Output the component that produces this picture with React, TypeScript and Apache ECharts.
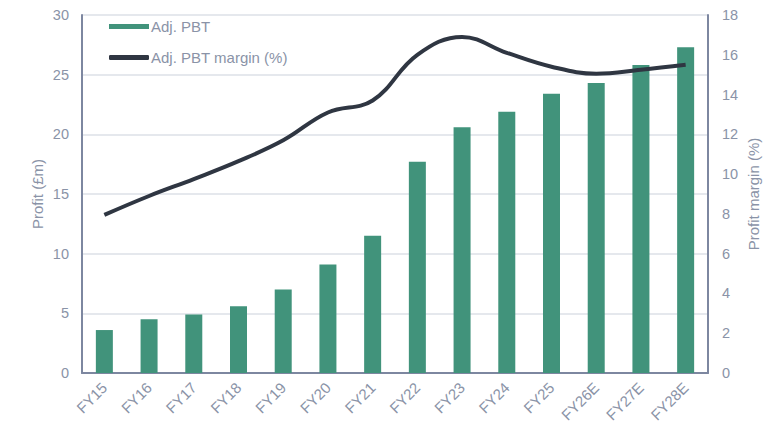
import React, { useEffect, useRef } from "react";
import * as echarts from "echarts";

const categories = ["FY15", "FY16", "FY17", "FY18", "FY19", "FY20", "FY21", "FY22", "FY23", "FY24", "FY25", "FY26E", "FY27E", "FY28E"];
const adjPBT = [3.6, 4.5, 4.9, 5.6, 7.0, 9.1, 11.5, 17.7, 20.6, 21.9, 23.4, 24.3, 25.8, 27.3];
const adjPBTMargin = [7.95, 8.9, 9.75, 10.65, 11.7, 13.1, 13.7, 16.0, 16.9, 16.1, 15.4, 15.05, 15.25, 15.5];

const labelColor = "#8a93a7";
const axisColor = "#7d87a0";
const barColor = "#41937b";
const lineColor = "#2f3642";
const font = "'Liberation Sans', Arial, sans-serif";

export default function App() {
  const ref = useRef<HTMLDivElement>(null);
  useEffect(() => {
    if (!ref.current) return;
    const chart = echarts.init(ref.current, undefined, { renderer: "svg" });
    chart.setOption({
      animation: false,
      textStyle: { fontFamily: font },
      grid: { left: 82, right: 57, top: 15, bottom: 49, containLabel: false, outerBoundsMode: "none" },
      legend: {
        orient: "vertical",
        left: 104,
        top: 14,
        itemGap: 16,
        itemWidth: 40,
        itemHeight: 5,
        textStyle: { color: labelColor, fontSize: 15, fontFamily: font, padding: [0, 0, 0, -3] },
        data: [
          { name: "Adj. PBT", icon: "rect" },
          { name: "Adj. PBT margin (%)", icon: "roundRect" },
        ],
      },
      xAxis: {
        type: "category",
        data: categories,
        axisLine: { show: true, lineStyle: { color: axisColor, width: 2 } },
        axisTick: { show: false },
        axisLabel: { color: labelColor, fontSize: 15, rotate: 45, margin: 12, fontFamily: font },
      },
      yAxis: [
        {
          type: "value",
          min: 0,
          max: 30,
          interval: 5,
          name: "Profit (£m)",
          nameLocation: "middle",
          nameRotate: 90,
          nameGap: 37,
          nameMoveOverlap: false,
          nameTextStyle: { color: labelColor, fontSize: 15, fontFamily: font },
          axisLine: { show: true, lineStyle: { color: axisColor, width: 2 } },
          axisTick: { show: false },
          axisLabel: { color: labelColor, fontSize: 14.5, margin: 13, fontFamily: font },
          splitLine: { show: true, lineStyle: { color: "#dde0e7", width: 1.5 } },
        },
        {
          type: "value",
          min: 0,
          max: 18,
          interval: 2,
          name: "Profit margin (%)",
          nameLocation: "middle",
          nameRotate: 90,
          nameGap: 38,
          nameMoveOverlap: false,
          nameTextStyle: { color: labelColor, fontSize: 15, fontFamily: font },
          axisLine: { show: true, lineStyle: { color: axisColor, width: 2 } },
          axisTick: { show: false },
          axisLabel: { color: labelColor, fontSize: 14.5, margin: 14, fontFamily: font },
          splitLine: { show: false },
        },
      ],
      series: [
        {
          name: "Adj. PBT",
          type: "bar",
          data: adjPBT,
          barWidth: 17,
          itemStyle: { color: barColor },
          yAxisIndex: 0,
        },
        {
          name: "Adj. PBT margin (%)",
          type: "line",
          data: adjPBTMargin,
          yAxisIndex: 1,
          smooth: 0.4,
          showSymbol: false,
          symbol: "none",
          lineStyle: { color: lineColor, width: 4 },
          itemStyle: { color: lineColor },
        },
      ],
    });
    return () => chart.dispose();
  }, []);
  return <div ref={ref} style={{ width: 765, height: 422, position: "absolute", left: 0, top: 0 }} />;
}
